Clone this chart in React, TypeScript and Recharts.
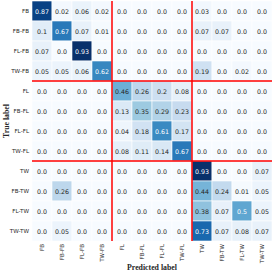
import { ScatterChart, Scatter, XAxis, YAxis, ReferenceLine } from 'recharts';

const labels = ['FB', 'FB-FB', 'FL-FB', 'TW-FB', 'FL', 'FB-FL', 'FL-FL', 'TW-FL', 'TW', 'FB-TW', 'FL-TW', 'TW-TW'];

// rows = true label, columns = predicted label
const rowFB = [0.87, 0.02, 0.06, 0.02, 0.0, 0.0, 0.0, 0.0, 0.03, 0.0, 0.0, 0.0];
const rowFBFB = [0.1, 0.67, 0.07, 0.01, 0.0, 0.0, 0.0, 0.0, 0.07, 0.07, 0.0, 0.0];
const rowFLFB = [0.07, 0.0, 0.93, 0.0, 0.0, 0.0, 0.0, 0.0, 0.0, 0.0, 0.0, 0.0];
const rowTWFB = [0.05, 0.05, 0.06, 0.62, 0.0, 0.0, 0.0, 0.0, 0.19, 0.0, 0.02, 0.0];
const rowFL = [0.0, 0.0, 0.0, 0.0, 0.46, 0.26, 0.2, 0.08, 0.0, 0.0, 0.0, 0.0];
const rowFBFL = [0.0, 0.0, 0.0, 0.0, 0.13, 0.35, 0.29, 0.23, 0.0, 0.0, 0.0, 0.0];
const rowFLFL = [0.0, 0.0, 0.0, 0.0, 0.04, 0.18, 0.61, 0.17, 0.0, 0.0, 0.0, 0.0];
const rowTWFL = [0.0, 0.0, 0.0, 0.0, 0.08, 0.11, 0.14, 0.67, 0.0, 0.0, 0.0, 0.0];
const rowTW = [0.0, 0.0, 0.0, 0.0, 0.0, 0.0, 0.0, 0.0, 0.93, 0.0, 0.0, 0.07];
const rowFBTW = [0.0, 0.26, 0.0, 0.0, 0.0, 0.0, 0.0, 0.0, 0.44, 0.24, 0.01, 0.05];
const rowFLTW = [0.0, 0.0, 0.0, 0.0, 0.0, 0.0, 0.0, 0.0, 0.38, 0.07, 0.5, 0.05];
const rowTWTW = [0.0, 0.05, 0.0, 0.0, 0.0, 0.0, 0.0, 0.0, 0.73, 0.07, 0.08, 0.07];

const matrix = [rowFB, rowFBFB, rowFLFB, rowTWFB, rowFL, rowFBFL, rowFLFL, rowTWFL, rowTW, rowFBTW, rowFLTW, rowTWTW];

const groupBreaks = [3.5, 7.5];

const W = 274;
const H = 274;
const margin = { top: 1, right: 2, left: 0, bottom: 0 };
const yAxisW = 32;
const xAxisH = 33;
const cellW = (W - margin.left - margin.right - yAxisW) / labels.length;
const cellH = (H - margin.top - margin.bottom - xAxisH) / labels.length;

const blues = ['#f7fbff', '#deebf7', '#c6dbef', '#9ecae1', '#6baed6', '#4292c6', '#2171b5', '#08519c', '#08306b'];
const vmax = 0.93;

function hex(c: string) {
  return [1, 3, 5].map((i) => parseInt(c.slice(i, i + 2), 16));
}

function blueColor(v: number) {
  const t = Math.max(0, Math.min(1, v / vmax)) * (blues.length - 1);
  const i = Math.min(Math.floor(t), blues.length - 2);
  const f = t - i;
  const a = hex(blues[i]);
  const b = hex(blues[i + 1]);
  const c = a.map((x, k) => Math.round(x + (b[k] - x) * f));
  return `rgb(${c[0]},${c[1]},${c[2]})`;
}

const cells = matrix.flatMap((row, r) => row.map((v, c) => ({ x: c, y: r, v })));

const fmt = (v: number) => (v === 0 ? '0.0' : String(v));

const sans = 'DejaVu Sans';

function Cell(props: any) {
  const { cx, cy, payload } = props;
  if (cx == null || cy == null) return null;
  const v = payload.v as number;
  return (
    <g>
      <rect
        x={cx - cellW / 2}
        y={cy - cellH / 2}
        width={cellW}
        height={cellH}
        fill={blueColor(v)}
        stroke="#ffffff"
        strokeWidth={0.6}
      />
      <text
        x={cx}
        y={cy}
        textAnchor="middle"
        dominantBaseline="central"
        fontFamily={sans}
        fontSize={6.3}
        fill={v > vmax / 2 ? '#ffffff' : '#262626'}
      >
        {fmt(v)}
      </text>
    </g>
  );
}

function XTick(props: any) {
  const { x, y, payload } = props;
  return (
    <text
      transform={`translate(${x},${y + 1}) rotate(-90)`}
      textAnchor="end"
      dominantBaseline="central"
      fontFamily={sans}
      fontSize={5.6}
      fill="#262626"
    >
      {labels[payload.value]}
    </text>
  );
}

function YTick(props: any) {
  const { x, y, payload } = props;
  return (
    <text
      x={x - 1}
      y={y}
      textAnchor="end"
      dominantBaseline="central"
      fontFamily={sans}
      fontSize={5.6}
      fill="#262626"
    >
      {labels[payload.value]}
    </text>
  );
}

const idx = labels.map((_, i) => i);

export default function App() {
  const plotCx = yAxisW + (W - yAxisW - margin.right) / 2;
  const plotCy = margin.top + (H - margin.top - xAxisH) / 2;
  return (
    <div style={{ position: 'absolute', left: 0, top: 0, width: W, height: H, background: '#fff' }}>
      <ScatterChart width={W} height={H} margin={margin}>
        <XAxis
          type="number"
          dataKey="x"
          domain={[-0.5, labels.length - 0.5]}
          ticks={idx}
          interval={0}
          height={xAxisH}
          axisLine={false}
          tickLine={false}
          tickSize={0}
          tickMargin={2}
          tick={<XTick />}
        />
        <YAxis
          type="number"
          dataKey="y"
          domain={[-0.5, labels.length - 0.5]}
          reversed
          ticks={idx}
          interval={0}
          width={yAxisW}
          axisLine={false}
          tickLine={false}
          tickSize={0}
          tickMargin={2}
          tick={<YTick />}
        />
        <Scatter data={cells} shape={<Cell />} isAnimationActive={false} />
        {groupBreaks.map((b) => (
          <ReferenceLine key={`v${b}`} x={b} stroke="#ff0000" strokeWidth={1.5} ifOverflow="visible" zIndex={1000} />
        ))}
        {groupBreaks.map((b) => (
          <ReferenceLine key={`h${b}`} y={b} stroke="#ff0000" strokeWidth={1.5} ifOverflow="visible" zIndex={1000} />
        ))}
      </ScatterChart>
      <div
        style={{
          position: 'absolute',
          left: plotCx - 60,
          width: 120,
          top: 263,
          textAlign: 'center',
          fontFamily: 'Liberation Serif',
          fontWeight: 'bold',
          fontSize: 7.8,
          lineHeight: '9px',
          color: '#262626',
        }}
      >
        Predicted label
      </div>
      <div
        style={{
          position: 'absolute',
          left: 5.5,
          top: plotCy,
          transform: 'translate(-50%, -50%) rotate(-90deg)',
          whiteSpace: 'nowrap',
          fontFamily: 'Liberation Serif',
          fontWeight: 'bold',
          fontSize: 7.8,
          lineHeight: '9px',
          color: '#262626',
        }}
      >
        True label
      </div>
    </div>
  );
}
